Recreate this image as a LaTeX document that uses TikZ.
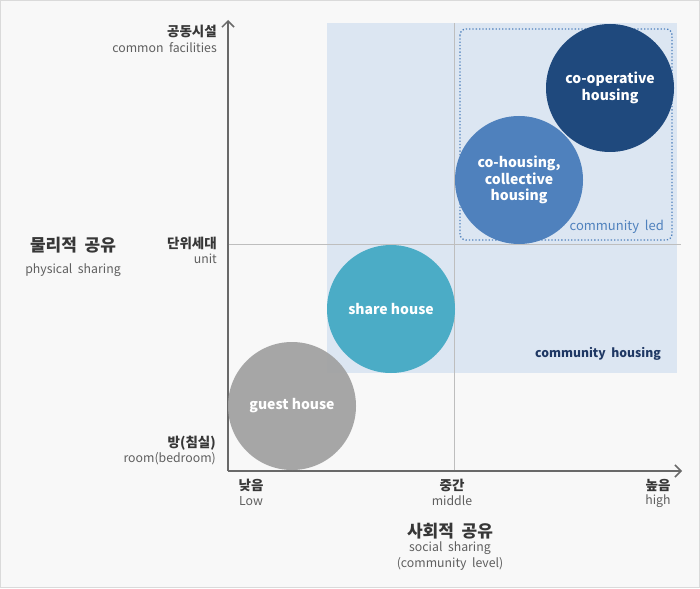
\documentclass[tikz,border=0pt]{standalone}
\usepackage{fontspec}
\setmainfont{Noto Sans CJK KR}
\usetikzlibrary{positioning, arrows.meta}
\definecolor{bgcolor}{RGB}{248,248,248}
\definecolor{framecolor}{RGB}{218,218,218}
\definecolor{zonecolor}{RGB}{220,230,242}
\definecolor{coopcolor}{RGB}{31,73,125}
\definecolor{cohcolor}{RGB}{79,129,189}
\definecolor{sharecolor}{RGB}{75,172,198}
\definecolor{guestcolor}{RGB}{160,160,160}
\definecolor{axiscolor}{RGB}{105,105,105}
\definecolor{gridcolor}{RGB}{190,190,190}
\definecolor{korcolor}{RGB}{55,55,55}
\definecolor{engcolor}{RGB}{95,95,95}
\definecolor{housingcolor}{RGB}{31,56,100}
\tikzstyle{bubble} = [circle, minimum size=128pt, inner sep=0pt,
                      text=white, align=center,
                      font=\bfseries\fontsize{14}{16.5}\selectfont]
\tikzstyle{axis} = [line width=1.5pt, draw=axiscolor,
                    -{Straight Barb[length=6pt, width=12pt]}]
\tikzstyle{kor} = [inner sep=0pt, text=korcolor,
                   font=\bfseries\fontsize{13.5}{15}\selectfont]
\tikzstyle{eng} = [inner sep=0pt, text=engcolor,
                   font=\fontsize{12.3}{14}\selectfont]
\tikzstyle{title} = [inner sep=0pt, text=korcolor,
                     font=\bfseries\fontsize{17}{19}\selectfont]

\begin{document}
\begin{tikzpicture}[x=1pt, y=-1pt, node distance=5pt]
        
        \fill [bgcolor, draw=framecolor] (0.5,0.5) rectangle (699.5,587.5);
        \useasboundingbox (0,0) rectangle (700,588);
        
        % community housing zone
        \fill [zonecolor] (327,23) rectangle (677,373);
        \draw [gridcolor, line width=0.6pt] (454,23) -- (454,471);
        \draw [gridcolor, line width=0.6pt] (228,244) -- (681,244);
        \draw [cohcolor, dotted, line width=1.3pt, rounded corners=6pt] (460,29) rectangle (672,240);
        
        \coordinate (Origin) at (228,471);
        \coordinate (TopEnd) at (228,20);
        \coordinate (RightEnd) at (682,471);
        \draw [axis] (Origin) -- (TopEnd);
        \draw [axis] (Origin) -- (RightEnd);
        
        \node (Coop) [bubble, fill=coopcolor] at (610,88) {co-operative\\housing};
        \node (Cohousing) [bubble, fill=cohcolor] at (519,180) {co-housing,\\collective\\housing};
        \node (Share) [bubble, fill=sharecolor] at (391,309) {share house};
        \node (Guest) [bubble, fill=guestcolor, fill opacity=0.92, text opacity=1] at (292,406) {guest house};
        
        \node (Led) [anchor=east, inner sep=0pt, text=cohcolor, font=\fontsize{13}{15}\selectfont] at (664,227) {community\ \ led};
        \node (Housing) [anchor=east, inner sep=0pt, text=housingcolor, font=\bfseries\fontsize{12.2}{14}\selectfont] at (661,354) {community\ \ housing};
        
        % y axis labels
        \node (Facil) [kor, anchor=east] at (217,31) {공동시설};
        \node (FacilEn) [eng, anchor=east] at (217,48) {common\ \ facilities};
        \node (Unit) [kor, anchor=east] at (217,243) {단위세대};
        \node (UnitEn) [eng, anchor=east] at (217,259) {unit};
        \node (Room) [kor, anchor=east] at (216,443) {방(침실)};
        \node (RoomEn) [eng, anchor=east] at (216,459) {room(bedroom)};
        \node (Physical) [title] at (73,245) {물리적\ \ 공유};
        \node (PhysicalEn) [eng] at (73,270) {physical\ \ sharing};
        
        % x axis labels
        \node (Low) [kor] at (251,485) {낮음};
        \node (LowEn) [eng] at (251,501) {Low};
        \node (Mid) [kor] at (452,485) {중간};
        \node (MidEn) [eng] at (452,501) {middle};
        \node (High) [kor] at (658,485) {높음};
        \node (HighEn) [eng] at (658,501) {high};
        \node (Social) [title] at (450,531) {사회적\ \ 공유};
        \node (SocialEn) [eng] at (450,548) {social\ \ sharing};
        \node (Level) [eng] at (450,564) {(community\ \ level)};
    
    \end{tikzpicture}
\end{document}
